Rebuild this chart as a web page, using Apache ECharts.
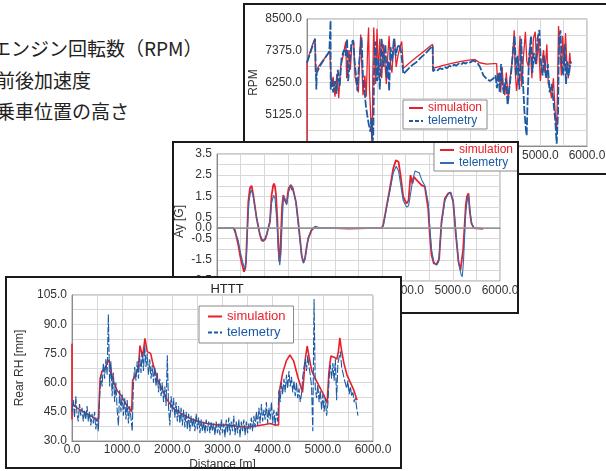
<!DOCTYPE html>
<html>
<head>
<meta charset="utf-8">
<script src="https://cdn.jsdelivr.net/npm/echarts/dist/echarts.min.js"></script>
<style>
  body { margin: 0; width: 606px; height: 471px; overflow: hidden; background: #fff; position: relative; }
  .note { position: absolute; font-family: 'Noto Sans CJK JP'; font-size: 19px; color: #222; white-space: nowrap; line-height: 1; }
  .panel { position: absolute; box-sizing: border-box; border: 2px solid #1a1a1a; background: #fff; }
  .panel > div { width: 100%; height: 100%; }
</style>
</head>
<body>
<div class="note" style="left:-8px;top:38px">エンジン回転数（RPM）</div>
<div class="note" style="left:-4px;top:70px">前後加速度</div>
<div class="note" style="left:-4px;top:101px">乗車位置の高さ</div>

<div class="panel" style="left:243px;top:3px;width:370px;height:172px;z-index:1"><div id="rpm"></div></div>
<div class="panel" style="left:172px;top:141px;width:347px;height:173px;z-index:2"><div id="ay"></div></div>
<div class="panel" style="left:5px;top:276px;width:397px;height:193px;z-index:3"><div id="rh"></div></div>

<script>
const RED = '#e8202a'
const BLUE = '#1c5aa3'
const distRange = [0, 6000, 1000]

// engine speed [distance m, rpm]
const rpmRange = [4000, 8500, 1125]
const rpmSim = [[0,4000],[0,7000],[60,7300],[120,7600],[175,7800],[180,6620],[260,6850],[350,7050],[440,7250],[490,7370],[500,6900],[530,6100],[560,6450],[600,5750],[640,6550],[680,5700],[720,6800],[780,7250],[830,7700],[850,6400],[900,7400],[930,6700],[960,7600],[1000,7700],[1030,6450],[1060,6200],[1100,5900],[1120,6700],[1150,7950],[1175,6900],[1200,5800],[1240,6500],[1270,5750],[1300,7500],[1320,8200],[1340,6000],[1370,4900],[1390,4200],[1400,4000],[1410,6500],[1430,8200],[1450,7300],[1470,6200],[1500,8150],[1530,6500],[1560,7800],[1600,6400],[1640,7600],[1680,6700],[1700,6200],[1730,7200],[1760,7900],[1790,6900],[1820,6600],[1850,7500],[1880,7800],[1910,6800],[1950,7200],[2000,7550],[2030,7700],[2064,6750],[2200,6950],[2350,7150],[2500,7350],[2650,7550],[2693,7600],[2700,6750],[2900,6850],[3100,6930],[3300,7000],[3500,7050],[3600,7060],[3700,6950],[3850,6900],[4000,6920],[4064,6920],[4080,6300],[4120,6600],[4150,5900],[4180,6800],[4210,6050],[4240,5800],[4270,6600],[4314,5620],[4350,6400],[4400,7000],[4440,8100],[4460,6700],[4490,5950],[4520,6400],[4564,7900],[4600,6100],[4640,7200],[4680,8050],[4710,7000],[4750,6800],[4780,7600],[4820,6400],[4850,7800],[4890,8050],[4920,6900],[4960,7800],[5000,6300],[5030,6900],[5070,7400],[5100,6600],[5140,7600],[5170,6200],[5200,6100],[5240,5700],[5280,6400],[5314,5300],[5340,4700],[5350,4500],[5370,6200],[5390,8250],[5420,7400],[5450,6500],[5480,7900],[5510,6800],[5540,8000],[5570,6800],[5600,6400],[5630,7300],[5650,6900],[5660,7000]]
const rpmTel = [[0,6950],[40,7150],[100,7450],[171,7800],[190,6700],[200,6000],[210,6600],[300,6900],[400,7150],[479,7350],[505,8450],[508,6000],[530,6400],[560,5900],[600,6300],[630,5850],[660,6700],[700,6100],[740,7100],[790,7400],[830,7200],[860,7800],[880,6300],[920,7000],[950,7650],[990,7750],[1020,7000],[1050,6500],[1080,5950],[1110,6800],[1140,7400],[1170,7850],[1200,6400],[1230,6000],[1260,5450],[1290,5100],[1320,4800],[1340,4650],[1360,4500],[1380,5000],[1400,4100],[1420,4350],[1440,7000],[1470,7700],[1500,6300],[1530,7100],[1560,6000],[1600,7800],[1640,6800],[1680,7600],[1710,6400],[1740,7000],[1760,5950],[1790,7500],[1830,7000],[1860,7800],[1900,7200],[1940,7500],[1980,7600],[2020,7300],[2064,6550],[2150,6700],[2250,6860],[2350,6980],[2450,7150],[2550,7300],[2650,7480],[2693,7550],[2700,6650],[2750,6720],[2800,6680],[2850,6760],[2900,6720],[2950,6800],[3000,6760],[3050,6840],[3100,6800],[3150,6880],[3200,6850],[3250,6920],[3300,6880],[3350,6960],[3400,6920],[3450,6990],[3500,6960],[3550,7030],[3600,7000],[3650,6950],[3707,6800],[3780,6500],[3850,6380],[3920,6300],[3957,6330],[4000,6400],[4040,6500],[4070,6050],[4100,6600],[4130,5900],[4160,6900],[4190,6150],[4220,5850],[4260,6400],[4300,5450],[4340,6100],[4380,6700],[4420,7500],[4450,7900],[4480,6500],[4510,7200],[4550,6000],[4590,7800],[4620,6500],[4660,5200],[4690,4600],[4707,4370],[4730,5800],[4760,7200],[4800,7900],[4830,6600],[4860,7300],[4900,6900],[4940,7800],[4979,8110],[5010,7000],[5050,6500],[5080,7200],[5120,6400],[5160,6900],[5200,5900],[5240,6200],[5280,5600],[5320,4900],[5350,4080],[5380,5200],[5400,7800],[5430,8100],[5460,7000],[5490,6500],[5520,7600],[5550,6200],[5580,7000],[5610,6500],[5640,6900],[5660,6980]]

// lateral acceleration [distance m, G]
const ayRange = [-2.5, 3.5, 0.5]
const ayLabels = [3.5, 2.5, 1.5, 0.5, 0, -0.5, -1.5, -2.5]
const aySim = [[0,0],[200,0],[346,0.01],[381,-0.1],[452,-0.8],[501,-1.43],[544,-1.82],[572,-2.06],[600,-1.9],[614,-1.6],[640,-0.2],[664,1.24],[699,1.9],[734,2.0],[770,1.56],[840,0.46],[911,-0.33],[950,-0.6],[982,-0.66],[1020,-0.55],[1052,-0.33],[1123,0.3],[1158,1.56],[1190,2.0],[1208,2.1],[1230,1.95],[1250,1.6],[1278,0.46],[1300,-0.8],[1320,-1.59],[1340,-1.2],[1356,-0.3],[1380,1.0],[1405,1.56],[1441,1.3],[1476,1.16],[1500,1.6],[1518,1.87],[1561,2.03],[1590,1.8],[1603,1.9],[1631,1.87],[1674,1.24],[1723,0.3],[1760,-0.5],[1794,-1.27],[1829,-1.62],[1864,-1.45],[1900,-0.9],[1935,-0.49],[2006,-0.1],[2076,0.05],[2182,0],[2500,0],[2800,-0.02],[3200,0],[3489,0],[3524,0.14],[3594,1.0],[3665,1.87],[3736,2.81],[3792,3.2],[3849,3.13],[3891,2.5],[3948,1.48],[4018,1.16],[4061,1.3],[4103,2.5],[4120,2.3],[4145,2.1],[4174,2.42],[4220,2.3],[4265,2.19],[4336,2.03],[4407,1.95],[4442,1.9],[4477,0.93],[4513,-0.33],[4548,-1.27],[4597,-1.67],[4654,-1.71],[4710,-1.45],[4760,0.3],[4831,1.4],[4901,1.64],[4951,1.68],[5007,1.24],[5064,-0.3],[5120,-1.59],[5162,-1.98],[5200,-2.0],[5219,-1.0],[5275,1.09],[5300,1.5],[5332,1.64],[5360,0.77],[5395,0.22],[5445,0],[5643,-0.04]]
const ayTel = [[0,0],[200,0],[346,0],[381,-0.05],[452,-0.6],[501,-1.2],[544,-1.6],[590,-1.95],[620,-1.5],[650,0.2],[680,1.3],[720,1.8],[760,1.6],[840,0.5],[911,-0.3],[982,-0.64],[1052,-0.3],[1123,0.35],[1158,1.2],[1200,1.55],[1230,1.4],[1270,0.3],[1300,-1.0],[1330,-1.75],[1356,-1.2],[1380,0.2],[1410,1.5],[1441,1.4],[1476,1.1],[1518,1.7],[1561,2.05],[1603,1.95],[1640,1.6],[1680,1.1],[1723,0.2],[1794,-1.3],[1835,-1.67],[1870,-1.4],[1935,-0.45],[2006,-0.05],[2076,0.08],[2182,0],[3489,0],[3524,0.1],[3594,0.95],[3665,1.75],[3736,2.6],[3800,2.92],[3849,2.7],[3891,2.1],[3948,1.3],[4018,1.0],[4061,1.05],[4103,1.6],[4150,2.3],[4200,2.7],[4237,2.75],[4290,2.6],[4336,2.3],[4407,2.0],[4442,1.95],[4477,1.2],[4513,0],[4548,-1.0],[4597,-1.6],[4654,-1.75],[4700,-1.6],[4760,0.2],[4831,1.3],[4901,1.6],[4951,1.7],[5007,1.3],[5064,-0.2],[5120,-1.6],[5175,-2.2],[5200,-2.3],[5225,-1.6],[5275,0.8],[5320,1.55],[5340,1.45],[5360,0.9],[5395,0.25],[5445,0.02],[5643,-0.02]]

// rear ride height
const rhRange = [30, 105, 15]
const rhSim = [[0,80],[0,41],[5,49],[100,47],[200,45.5],[300,44],[400,42.5],[525,40.3],[545,40],[560,62],[600,66],[650,67],[700,70],[740,71.6],[780,66],[823,60.5],[900,56],[989,52.8],[1100,48],[1189,45],[1200,44],[1208,61],[1260,64],[1321,67],[1355,79],[1408,73],[1454,82.7],[1500,75.9],[1567,75],[1620,69],[1720,60.5],[1820,55.3],[1900,51],[2019,46.8],[2150,44.5],[2284,42.5],[2450,40.5],[2683,39],[2900,38.3],[3081,38.2],[3300,37.5],[3500,37.2],[3700,37.8],[3850,38.5],[3950,39],[4050,38.2],[4117,38.2],[4130,55],[4200,65],[4270,71],[4343,74.2],[4420,71],[4500,63],[4595,55],[4620,62],[4650,72],[4688,78.8],[4720,74],[4780,66],[4850,62],[4950,57],[5030,53],[5086,49.5],[5100,48.5],[5120,65],[5160,73.6],[5230,73],[5280,72],[5310,76],[5339,83],[5370,77],[5420,70],[5480,64],[5550,60],[5620,56],[5670,52],[5684,51]]
// telemetry sampled every 25 m from 0 m
const rhStep = 25
const rhTel = [45,51,42,53,44,40,49,43,47,40,46,41,48,40,45,38,44,39,45,36,42,35,
  52,64,58,70,62,72,64,95,
  58,71,53,65,50,60,46,38,56,45,54,43,52,41,51,39,48,42,35,
  60,68,61,71,62,74,65,76,66,79,68,75,64,72,62,69,60,68,58,65,55,62,53,60,50,58,48,74,
  47,38,53,45,52,42,50,40,48,39,47,38,46,37,45,36,44,35,43,37,42,35,44,36,42,34,41,35,40,34,
  41,35,40,34,40,35,39,33,40,34,39,33,41,34,39,32,41,34,42,33,40,35,43,33,40,34,41,32,40,35,41,33,40,34,39,
  36,42,35,43,37,45,38,47,39,49,40,46,41,50,39,47,41,50,39,46,38,45,40,
  56,50,60,54,62,55,64,57,66,58,63,55,61,53,60,52,57,50,54,
  63,68,72,66,74,68,64,58,35,103,
  57,52,59,50,56,46,54,45,52,43,49,
  62,69,62,70,61,72,51,70,73,76,68,68,62,63,57,61,54,58,53,55,50,52,47,43]

const fmt1 = v => v.toFixed(1)
const gridColor = '#d8d8d8'

function xAxisOpt(extra) {
  return Object.assign({
    type: 'value', min: distRange[0], max: distRange[1], interval: distRange[2],
    axisLine: { show: true, lineStyle: { color: '#8a8a8a' } },
    axisTick: { show: false },
    axisLabel: { formatter: fmt1, color: '#333', fontSize: 12, margin: 4, showMinLabel: true, showMaxLabel: true },
    splitLine: { show: true, lineStyle: { color: gridColor } },
    minorTick: { show: false, splitNumber: 2 },
    minorSplitLine: { show: true, lineStyle: { color: gridColor } }
  }, extra)
}

function yAxisOpt(range, name, gap, extra) {
  return Object.assign({
    type: 'value', min: range[0], max: range[1], interval: range[2],
    name: name, nameLocation: 'middle', nameGap: gap, nameRotate: 90, nameMoveOverlap: false,
    nameTextStyle: { color: '#333', fontSize: 12 },
    axisLine: { show: true, lineStyle: { color: '#8a8a8a' } },
    axisTick: { show: false },
    axisLabel: { formatter: fmt1, color: '#333', fontSize: 12, margin: 5, showMinLabel: true, showMaxLabel: true },
    splitLine: { show: true, lineStyle: { color: gridColor } }
  }, extra)
}

function legendOpt(pos, dashed) {
  return Object.assign({
    orient: 'vertical', padding: [2, 5], itemGap: 1, itemWidth: 14, itemHeight: 8,
    backgroundColor: '#fff', borderColor: '#8a8a8a', borderWidth: 1, borderRadius: 0,
    itemStyle: { opacity: 0 },
    textStyle: { fontSize: 12 },
    data: [
      { name: 'simulation', textStyle: { color: RED } },
      { name: 'telemetry', textStyle: { color: BLUE }, lineStyle: dashed ? { type: [4, 2] } : {} }
    ]
  }, pos)
}

function lineSeries(name, data, color, width, dashed, extra) {
  return Object.assign({
    name: name, type: 'line', data: data, symbol: 'none', showSymbol: false,
    lineStyle: { color: color, width: width, type: dashed ? [8, 2] : 'solid' },
    itemStyle: { color: color }
  }, extra)
}

function gridOpt(left, top, right, bottom) {
  return { left, top, right, bottom, show: true, borderColor: '#9a9a9a', containLabel: false, outerBoundsMode: 'none' }
}

const base = { animation: false, textStyle: { fontFamily: 'Liberation Sans, Arial, sans-serif' } }

const rpmChart = echarts.init(document.getElementById('rpm'))
rpmChart.setOption(Object.assign({}, base, {
  grid: gridOpt(62, 14, 24, 27),
  legend: legendOpt({ left: 158, top: 95 }, true),
  xAxis: xAxisOpt({ axisLabel: { formatter: fmt1, color: '#333', fontSize: 12, margin: 4 } }),
  yAxis: yAxisOpt(rpmRange, 'RPM', 47, {
    axisLabel: { formatter: fmt1, color: '#333', fontSize: 12, margin: 5, showMinLabel: false },
    minorTick: { show: false, splitNumber: 2 },
    minorSplitLine: { show: true, lineStyle: { color: gridColor } }
  }),
  series: [
    lineSeries('simulation', rpmSim, RED, 1.3, false),
    lineSeries('telemetry', rpmTel, BLUE, 1.8, true)
  ]
}))

const ayChart = echarts.init(document.getElementById('ay'))
ayChart.setOption(Object.assign({}, base, {
  grid: gridOpt(43, 11, 17, 31),
  legend: legendOpt({ right: -1, top: -1 }, false),
  // axis title placed by hand, left of the tick labels
  graphic: [{
    type: 'text', left: 0, top: 62, rotation: Math.PI / 2,
    style: { text: 'Ay [G]', fill: '#333', fontSize: 12, fontFamily: 'Liberation Sans, Arial, sans-serif' }
  }],
  xAxis: xAxisOpt({}),
  yAxis: yAxisOpt(ayRange, '', 31, {
    axisLabel: {
      color: '#333', fontSize: 12, margin: 5,
      formatter: v => ayLabels.some(l => Math.abs(l - v) < 1e-6) ? fmt1(v) : ''
    }
  }),
  series: [
    lineSeries('simulation', aySim, RED, 1.8, false, {
      markLine: {
        silent: true, symbol: 'none', label: { show: false },
        lineStyle: { color: '#9a9a9a', width: 1.5, type: 'solid' },
        data: [{ yAxis: 0 }]
      }
    }),
    lineSeries('telemetry', ayTel, '#2f6db5', 1.1, false)
  ]
}))

const rhChart = echarts.init(document.getElementById('rh'))
rhChart.setOption(Object.assign({}, base, {
  title: { text: 'HTTT', left: 215, top: 0, textAlign: 'center', textStyle: { fontSize: 13, fontWeight: 'normal', color: '#222' } },
  grid: gridOpt(65, 17, 27, 26),
  legend: legendOpt({ left: 192, top: 28, padding: [4, 8], itemGap: 3, textStyle: { fontSize: 13 } }, true),
  xAxis: xAxisOpt({
    name: 'Distance [m]', nameLocation: 'middle', nameGap: 18, nameMoveOverlap: false,
    nameTextStyle: { color: '#333', fontSize: 12 },
    axisLabel: { formatter: fmt1, color: '#333', fontSize: 12, margin: 3 }
  }),
  yAxis: yAxisOpt(rhRange, 'Rear RH [mm]', 46, {
    minorTick: { show: false, splitNumber: 2 },
    minorSplitLine: { show: true, lineStyle: { color: gridColor } }
  }),
  series: [
    lineSeries('simulation', rhSim, RED, 1.6, false),
    lineSeries('telemetry', rhTel.map((v, i) => [i * rhStep, v]), BLUE, 1.1, true)
  ]
}))
</script>
</body>
</html>
